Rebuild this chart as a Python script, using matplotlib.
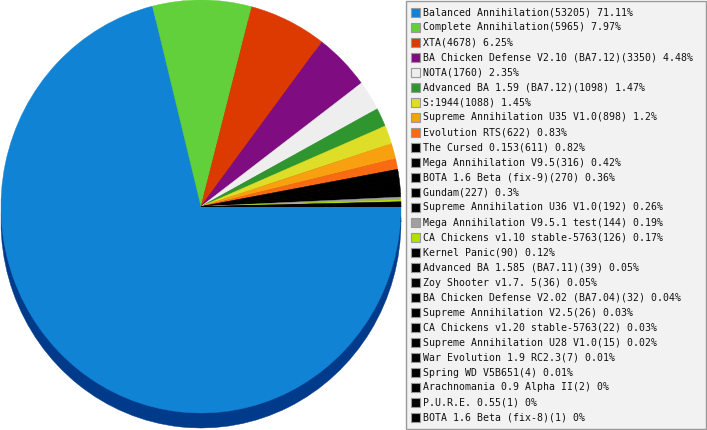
import matplotlib
matplotlib.use("Agg")
import matplotlib.pyplot as plt
from matplotlib.patches import Rectangle
import matplotlib.colors as mcolors

names = ["Balanced Annihilation", "Complete Annihilation", "XTA",
         "BA Chicken Defense V2.10 (BA7.12)", "NOTA", "Advanced BA 1.59 (BA7.12)",
         "S:1944", "Supreme Annihilation U35 V1.0", "Evolution RTS", "The Cursed 0.153",
         "Mega Annihilation V9.5", "BOTA 1.6 Beta (fix-9)", "Gundam",
         "Supreme Annihilation U36 V1.0", "Mega Annihilation V9.5.1 test",
         "CA Chickens v1.10 stable-5763", "Kernel Panic", "Advanced BA 1.585 (BA7.11)",
         "Zoy Shooter v1.7. 5", "BA Chicken Defense V2.02 (BA7.04)",
         "Supreme Annihilation V2.5", "CA Chickens v1.20 stable-5763",
         "Supreme Annihilation U28 V1.0", "War Evolution 1.9 RC2.3", "Spring WD V5B651",
         "Arachnomania 0.9 Alpha II", "P.U.R.E. 0.55", "BOTA 1.6 Beta (fix-8)"]
counts = [53205, 5965, 4678, 3350, 1760, 1098, 1088, 898, 622, 611, 316, 270, 227,
          192, 144, 126, 90, 39, 36, 32, 26, 22, 15, 7, 4, 2, 1, 1]
percents = ["71.11", "7.97", "6.25", "4.48", "2.35", "1.47", "1.45", "1.2", "0.83",
            "0.82", "0.42", "0.36", "0.3", "0.26", "0.19", "0.17", "0.12", "0.05",
            "0.05", "0.04", "0.03", "0.03", "0.02", "0.01", "0.01", "0", "0", "0"]
colors = ["#1183d4", "#62d03a", "#dc3a00", "#7f0c80", "#eeeeee", "#2f962f",
          "#dede28", "#f8a010", "#f86b12"] + ["#000000"] * 5 + ["#a0a0a0", "#b2e000"] + ["#000000"] * 12

W, H = 707, 430
fig = plt.figure(figsize=(W / 100, H / 100), dpi=100)
fig.patch.set_facecolor("white")

cx, cy_top = 201, 206.5
rx, ry = 200.0, 206.5
depth = 15
ax_w = 405
ax = fig.add_axes([0, 0, ax_w / W, 1])
ax.set_axis_off()

def darken(c, f=0.45):
    r, g, b = mcolors.to_rgb(c)
    return (r * f, g * f, b * f)

side_colors = ["#003a8a"] + [darken(c) for c in colors[1:]]
w_side, _ = ax.pie(counts, colors=side_colors, startangle=0, counterclock=False,
                   center=(0, -depth / ry), radius=1, frame=True)
w_top, _ = ax.pie(counts, colors=colors, startangle=0, counterclock=False,
                  center=(0, 0), radius=1, frame=True)
for w in list(w_side) + list(w_top):
    w.set_edgecolor(w.get_facecolor())
    w.set_linewidth(0.3)
ax.set_aspect("auto")
ax.set_xlim(-cx / rx, (ax_w - cx) / rx)
cy = H - cy_top
ax.set_ylim(-cy / ry, (H - cy) / ry)
ax.set_axis_off()

# legend box
lx0, ly0, lx1, ly1 = 405.5, 0.5, 705.5, 429
fig.patches.append(Rectangle((lx0 / W, 1 - ly1 / H), (lx1 - lx0) / W, (ly1 - ly0) / H,
                             transform=fig.transFigure, facecolor="#f2f2f2",
                             edgecolor="#999999", linewidth=1.0))
row0, step = 12.5, 15.0
for i, (n, c, p, col) in enumerate(zip(names, counts, percents, colors)):
    yc = row0 + i * step
    fig.patches.append(Rectangle((410.5 / W, 1 - (yc + 4.5) / H), 9 / W, 9 / H,
                                 transform=fig.transFigure, facecolor=col,
                                 edgecolor="#999999", linewidth=0.8))
    fig.text(423 / W, 1 - yc / H, f"{n}({c}) {p}%", fontsize=7.15,
             family="DejaVu Sans Mono", color="#111111", va="center", ha="left")

fig.savefig("out.png", dpi=100, facecolor="white")
